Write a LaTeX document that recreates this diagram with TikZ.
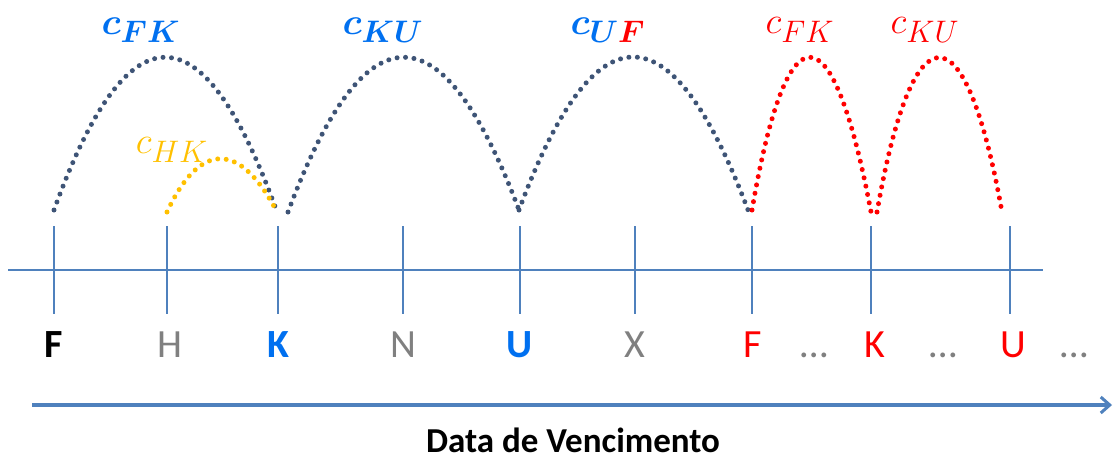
\documentclass[tikz,border=0pt]{standalone}
\usepackage{amsmath,bm}
\usepackage{fontspec}
\setsansfont{Carlito}
\usepackage{xcolor}
\usetikzlibrary{arrows.meta}

\definecolor{axisblue}{RGB}{79,129,189}
\definecolor{arcblue}{RGB}{62,84,118}
\definecolor{labelblue}{RGB}{0,112,240}
\definecolor{labelred}{RGB}{255,0,0}
\definecolor{labelyellow}{RGB}{255,192,0}
\definecolor{labelgray}{RGB}{128,128,128}

\newcommand{\subidx}[1]{\mbox{\LARGE$#1$}}

\begin{document}
\begin{tikzpicture}[
		x=1pt, y=-1pt,
		tick/.style={draw=axisblue, line width=1.2pt},
		letter/.style={
			font=\fontsize{40}{44}\selectfont\sffamily,
			anchor=base,
			inner sep=0pt
		},
		spread/.style={
			line width=5pt,
			line cap=round,
			dash pattern=on 0pt off 8.5pt
		},
		cost/.style={
			font=\huge,
			scale=1.8,
			inner sep=0pt
		},
		arrow/.style={-{Straight Barb[length=9pt, width=16pt, line width=3pt]}, line width=4pt, draw=axisblue}
		]
		
		\useasboundingbox (0,0) rectangle (1115,459);
		
		% Axis and ticks
		\coordinate (axisstart) at (8,270);
		\coordinate (axisend) at (1043,270);
		\draw[tick] (axisstart) -- (axisend);
		\foreach \name/\x in {t1/54, t2/167, t3/278, t4/403, t5/520, t6/635, t7/752, t8/871, t9/1010} {
			\coordinate (\name top) at (\x,226);
			\coordinate (\name bot) at (\x,314);
			\draw[tick] (\name top) -- (\name bot);
		}
		
		% Maturity letters
		\node[letter, text=black] (mF) at (54,357) {\bfseries F};
		\node[letter, text=labelgray] (mH) at (170,357) {H};
		\node[letter, text=labelblue] (mK) at (278,357) {\bfseries K};
		\node[letter, text=labelgray] (mN) at (403,357) {N};
		\node[letter, text=labelblue] (mU) at (520,357) {\bfseries U};
		\node[letter, text=labelgray] (mX) at (635,357) {X};
		\node[letter, text=labelred] (mF2) at (753,357) {F};
		\node[letter, text=labelgray] (d1) at (814,357) {\dots};
		\node[letter, text=labelred] (mK2) at (875,357) {K};
		\node[letter, text=labelgray] (d2) at (943,357) {\dots};
		\node[letter, text=labelred] (mU2) at (1013,357) {U};
		\node[letter, text=labelgray] (d3) at (1074,357) {\dots};
		
		% Time arrow
		\coordinate (timestart) at (32,405);
		\coordinate (timeend) at (1112,405);
		\draw[arrow] (timestart) -- (timeend);
		\node[font=\fontsize{35}{38}\selectfont\sffamily\bfseries] (title) at (573,440) {Data de Vencimento};
		
		% Spread end points
		\coordinate (a1) at (54,210);
		\coordinate (a2) at (277,212);
		\coordinate (a3) at (288,212);
		\coordinate (a4) at (519,210);
		\coordinate (a5) at (748,210);
		\coordinate (a6) at (752,210);
		\coordinate (a7) at (871,212);
		\coordinate (a8) at (877,212);
		\coordinate (a9) at (1002,212);
		\coordinate (h1) at (167,212);
		
		% Spreads
		\draw[spread, arcblue] (a1) .. controls (128,6) and (203,6) .. (a2);
		\draw[spread, arcblue] (a3) .. controls (365,6) and (442,6) .. (a4);
		\draw[spread, arcblue] (a4) .. controls (595,6) and (671,6) .. (a5);
		\draw[spread, labelred] (a6) .. controls (787,6) and (832,6) .. (a7);
		\draw[spread, labelred] (a8) .. controls (913,6) and (965,6) .. (a9);
		\draw[spread, labelyellow] (h1) .. controls (200,141) and (240,141) .. (a2);
		
		% Spread labels
		\node[cost, text=labelblue] (cFK) at (141,30) {$\bm{c}_{\subidx{\bm{FK}}}$};
		\node[cost, text=labelblue] (cKU) at (383,30) {$\bm{c}_{\subidx{\bm{KU}}}$};
		\node[cost, text=labelblue] (cUF) at (608,30) {$\bm{c}_{\subidx{\bm{U}{\color{labelred}\bm{F}}}}$};
		\node[cost, text=labelred] (cFK2) at (800,30) {$c_{\subidx{FK}}$};
		\node[cost, text=labelred] (cKU2) at (925,30) {$c_{\subidx{KU}}$};
		\node[cost, text=labelyellow] (cHK) at (172,150) {$c_{\subidx{HK}}$};
		
	\end{tikzpicture}
\end{document}
